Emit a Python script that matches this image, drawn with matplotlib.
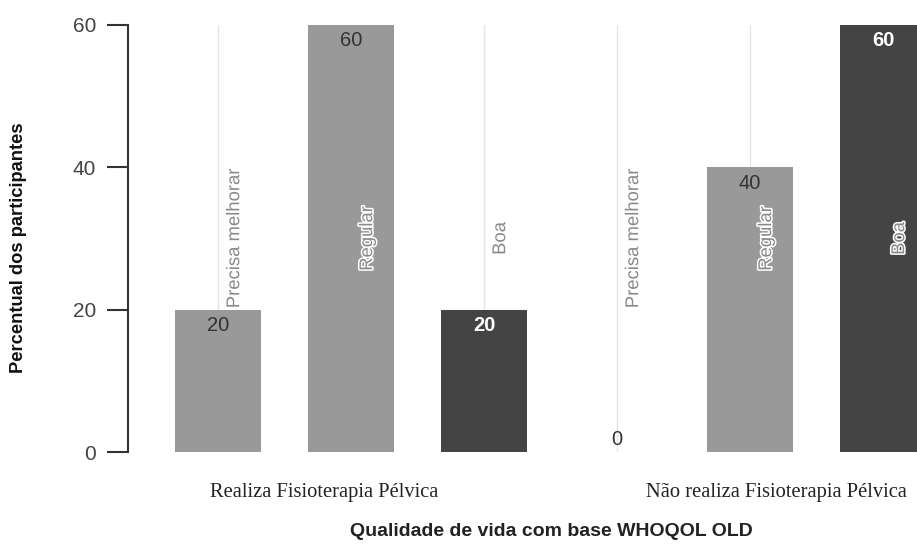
import numpy as np
import matplotlib
matplotlib.use("Agg")
import matplotlib.pyplot as plt
import matplotlib.patheffects as pe

plt.rcParams['font.family'] = ['Liberation Sans', 'DejaVu Sans']

grupos = ['Realiza Fisioterapia Pélvica', 'Não realiza Fisioterapia Pélvica']
categorias = ['Precisa melhorar', 'Regular', 'Boa']
valores = [[20, 60, 20],   # Realiza
           [0, 40, 60]]    # Não realiza
cores = ['#999999', '#999999', '#444444']
cor_valor = ['#333333', '#333333', '#ffffff']
peso_valor = ['normal', 'normal', 'bold']

fig = plt.figure(figsize=(9.17, 5.44), dpi=100)
ax = fig.add_axes([128/917, 92/544, 1 - 128/917, 427/544])

for g in range(2):
    for c in range(3):
        x = g * 3 + c
        v = valores[g][c]
        ax.axvline(x, color='#e4e4e4', lw=1, zorder=0)
        ax.bar(x, v, width=0.65, color=cores[c], zorder=2)
        if v > 0:
            ax.annotate(str(v), (x, v), xytext=(0, -11.5), textcoords='offset points',
                        ha='center', va='center', fontsize=14.5,
                        color=cor_valor[c], fontweight=peso_valor[c], zorder=4)
        else:
            ax.annotate(str(v), (x, v), xytext=(0, 9), textcoords='offset points',
                        ha='center', va='center', fontsize=14.5, color='#333333', zorder=4)
        t = ax.annotate(categorias[c], (x, 30), xytext=(12, 0), textcoords='offset points',
                        rotation=90, ha='center', va='center', fontsize=13.3,
                        color='#8a8a8a', zorder=5)
        t.set_path_effects([pe.withStroke(linewidth=2.2, foreground='white')])

ax.set_xlim(-0.677, 5.256)
ax.set_ylim(0, 60)
ax.set_yticks([0, 20, 40, 60])
ax.tick_params(axis='y', length=15, width=1.5, color='#333333', labelsize=15,
               labelcolor='#444444', pad=8)
ax.set_xticks([])
for s in ['top', 'right', 'bottom']:
    ax.spines[s].set_visible(False)
ax.spines['left'].set_color('#333333')
ax.spines['left'].set_linewidth(1.5)

# rotulos dos grupos
ax.text(0.8, -0.095, grupos[0], transform=ax.get_xaxis_transform(), ha='center', va='center',
        fontsize=14.8, family='Liberation Serif', color='#222222')
ax.text(4.2, -0.095, grupos[1], transform=ax.get_xaxis_transform(), ha='center', va='center',
        fontsize=14.8, family='Liberation Serif', color='#222222')

fig.text(551/917, 1 - 532/544, 'Qualidade de vida com base WHOQOL OLD', ha='center', va='center',
         fontsize=14, fontweight='bold', color='#222222')
fig.text(19/917, 1 - 248/544, 'Percentual dos participantes', rotation=90, ha='center',
         va='center', fontsize=13.2, fontweight='bold', color='#111111')

fig.savefig('out.png', dpi=100)
